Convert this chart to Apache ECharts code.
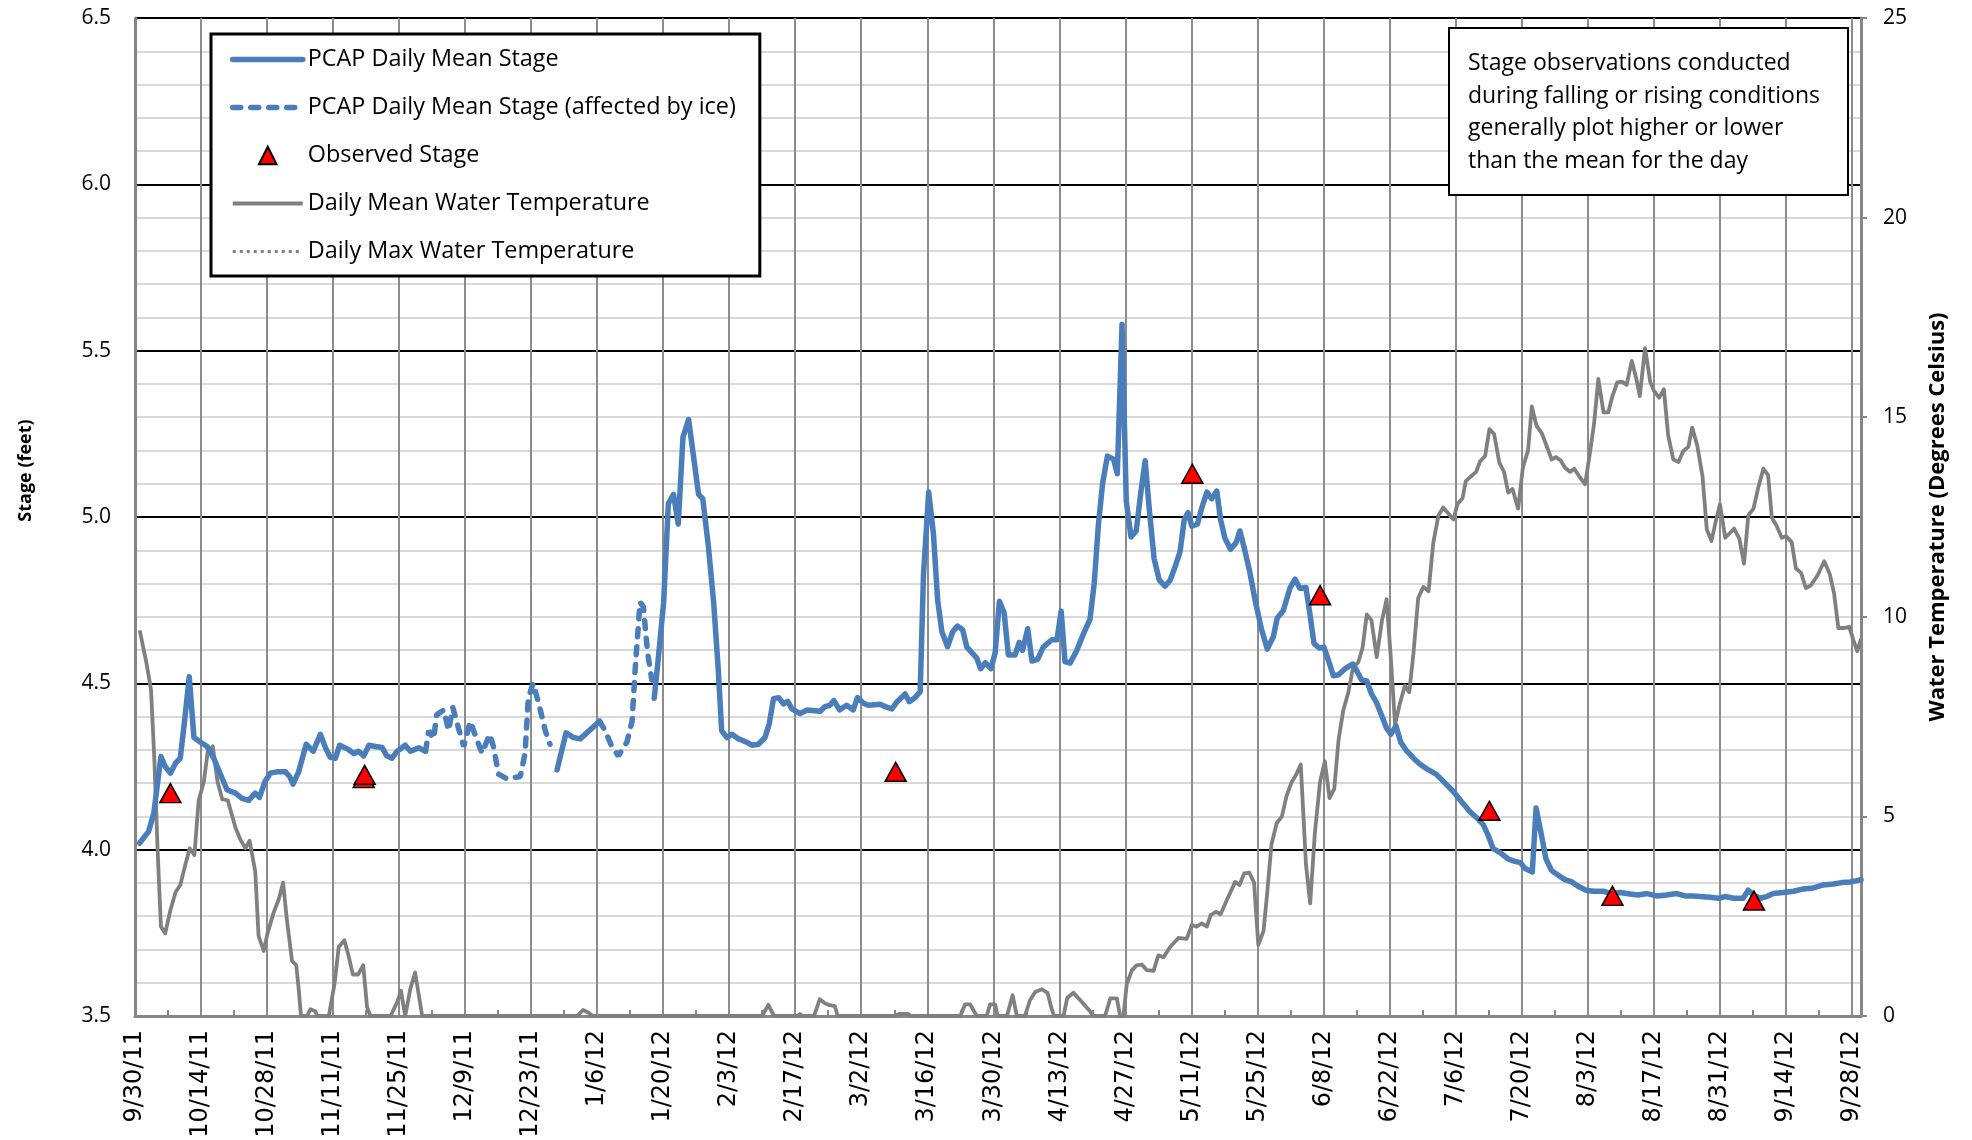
<!DOCTYPE html>
<html lang="en">

<head>
  <meta charset="utf-8">
  <title>PCAP stage and water temperature</title>
  <script src="https://cdn.jsdelivr.net/npm/echarts@6.0.0/dist/echarts.min.js"></script>
  <style>
    body {
      margin: 0;
      background: white;
      overflow: hidden;
    }

    #chart {
      width: 1972px;
      height: 1140px;
    }
  </style>
</head>

<body>
  <div id="chart"></div>

  <script>
    // --- Data. x is days since 9/30/11.

    // Labels for the ticks, one every 14 days.
    const TICK_LABELS = [
      '9/30/11', '10/14/11', '10/28/11', '11/11/11', '11/25/11', '12/9/11', '12/23/11',
      '1/6/12', '1/20/12', '2/3/12', '2/17/12', '3/2/12', '3/16/12', '3/30/12',
      '4/13/12', '4/27/12', '5/11/12', '5/25/12', '6/8/12', '6/22/12', '7/6/12',
      '7/20/12', '8/3/12', '8/17/12', '8/31/12', '9/14/12', '9/28/12'
    ];

    // Open water stage (feet), split where the record is affected by ice.
    const stageOpenA = [
      [1, 4.02], [2.9, 4.055], [4, 4.11], [4.7, 4.19], [5.5, 4.28], [6.4, 4.25], [7.5, 4.23],
      [8.6, 4.26], [9.6, 4.275], [10.5, 4.385], [11.5, 4.52], [12.5, 4.337], [13.9, 4.323],
      [15.3, 4.31], [16.7, 4.275], [18.1, 4.227], [19.5, 4.18], [21.3, 4.17], [22.7, 4.154],
      [24.1, 4.148], [25.5, 4.17], [26.4, 4.157], [27.6, 4.206], [28.7, 4.23], [30.1, 4.234],
      [31.9, 4.234], [32.8, 4.22], [33.5, 4.197], [34.7, 4.234], [36.3, 4.317], [37.8, 4.296],
      [39.3, 4.347], [40.4, 4.306], [41.4, 4.278], [42.5, 4.275], [43.4, 4.314], [45, 4.303],
      [46.4, 4.289], [47.4, 4.296], [48.5, 4.282], [49.6, 4.314], [51, 4.31], [52.4, 4.307],
      [53.4, 4.282], [54.5, 4.275], [55.6, 4.296], [57.3, 4.314], [58.4, 4.296], [60.2, 4.306],
      [61.6, 4.296]
    ];
    const stageOpenB = [
      [89.5, 4.24], [91.4, 4.351], [93, 4.337], [94.4, 4.333], [95.8, 4.351], [98.5, 4.386]
    ];
    const stageOpenC = [
      [110.1, 4.455], [111, 4.58], [112.1, 4.744], [113.1, 5.04], [114.2, 5.068], [115.2, 4.979],
      [116.2, 5.24], [117.4, 5.293], [118.4, 5.186], [119.5, 5.068], [120.4, 5.055], [121.6, 4.91],
      [122.7, 4.744], [123.7, 4.537], [124.4, 4.358], [125.5, 4.337], [126.6, 4.347], [128, 4.333],
      [129.7, 4.323], [130.8, 4.314], [132.2, 4.317], [133.6, 4.337], [134.5, 4.379], [135.4, 4.454],
      [136.5, 4.457], [137.5, 4.438], [138.4, 4.446], [139.3, 4.423], [141, 4.409], [142.5, 4.42],
      [145.3, 4.416], [146.3, 4.43], [147.3, 4.434], [148.2, 4.448], [149.4, 4.42], [150.9, 4.434],
      [152.3, 4.42], [153.2, 4.457], [154.5, 4.44], [155.5, 4.434], [158, 4.437], [159.1, 4.43],
      [160.5, 4.423], [161.5, 4.443], [163.3, 4.468], [164.2, 4.445], [165.4, 4.457], [166.5, 4.475],
      [167.2, 4.827], [168.3, 5.075], [169.3, 4.951], [170.2, 4.751], [171.1, 4.655], [172.3, 4.61],
      [173.4, 4.655], [174.4, 4.672], [175.5, 4.661], [176.4, 4.609], [177.6, 4.59], [178.5, 4.576],
      [179.3, 4.544], [180.3, 4.562], [181.5, 4.544], [182.4, 4.592], [183.3, 4.747], [184.3, 4.712],
      [185.2, 4.585], [186.6, 4.585], [187.5, 4.623], [188.2, 4.599], [189.3, 4.664], [190.2, 4.567],
      [191.4, 4.572], [192.6, 4.609], [194.4, 4.631], [195.5, 4.631], [196.4, 4.717], [197.2, 4.565],
      [198.3, 4.561], [199.7, 4.599], [201.1, 4.648], [202.5, 4.692], [203.4, 4.8], [204.3, 4.979],
      [205.2, 5.103], [206.2, 5.183], [207.5, 5.174], [208.3, 5.13], [209.3, 5.579], [210.2, 5.048],
      [211.2, 4.94], [212.3, 4.958], [213.3, 5.075], [214.2, 5.169], [215.1, 5.02], [216.1, 4.875],
      [217.2, 4.81], [218.4, 4.792], [219.5, 4.81], [220.5, 4.848], [221.6, 4.896], [222.5, 4.992],
      [223.3, 5.013], [224.1, 4.972], [225.3, 4.979], [226.2, 5.027], [227.3, 5.075], [228.3, 5.055],
      [229.4, 5.078], [230.2, 4.992], [231.1, 4.937], [232.3, 4.903], [233.5, 4.923], [234.3, 4.958],
      [235.4, 4.896], [236.4, 4.834], [237.5, 4.751], [238.9, 4.661], [240.1, 4.603], [241.4, 4.641],
      [242.2, 4.696], [243.5, 4.719], [244.9, 4.786], [246, 4.813], [247, 4.786], [248.3, 4.788],
      [249.2, 4.703], [250, 4.62], [251.1, 4.606], [252.1, 4.609], [253, 4.572], [254.1, 4.523],
      [255.2, 4.526], [256.6, 4.544], [258.2, 4.558], [259.1, 4.537], [260.1, 4.51], [261.2, 4.507],
      [262.2, 4.468], [263.3, 4.441], [264.4, 4.402], [265.4, 4.365], [266.3, 4.347], [267.4, 4.372],
      [268.4, 4.323], [269.7, 4.296], [271.1, 4.275], [272.5, 4.257], [273.9, 4.243], [275.9, 4.227],
      [277.4, 4.206], [279.6, 4.174], [281.3, 4.144], [283.1, 4.114], [284.5, 4.096], [285.9, 4.075],
      [287, 4.041], [288, 4.003], [289.4, 3.992], [291.2, 3.972], [292.6, 3.965], [293.8, 3.961],
      [294.7, 3.944], [296.3, 3.933], [297.1, 4.125], [298.1, 4.054], [299.2, 3.972], [300.4, 3.937],
      [301.8, 3.923], [303.2, 3.91], [304.7, 3.903], [306.1, 3.889], [307.7, 3.878], [309.2, 3.875],
      [311.4, 3.875], [313.1, 3.868], [314.9, 3.871], [317, 3.867], [318.8, 3.864], [320.6, 3.868],
      [322.7, 3.861], [324.8, 3.864], [326.9, 3.868], [328.7, 3.861], [330.4, 3.861], [331.9, 3.859],
      [334, 3.857], [335.8, 3.854], [337.2, 3.859], [339, 3.854], [341, 3.854], [342.1, 3.878],
      [343.2, 3.864], [344.6, 3.854], [346, 3.859], [347.4, 3.868], [349.5, 3.871], [351.7, 3.875],
      [353.8, 3.882], [355.9, 3.885], [358, 3.894], [360.1, 3.897], [361.9, 3.901], [363.7, 3.903],
      [365.1, 3.907], [366, 3.91]
    ];

    // Stage while the gage was affected by ice (dashed).
    const stageIceA = [
      [61.6, 4.296], [62.3, 4.358], [63.3, 4.333], [64, 4.406], [65.5, 4.42], [66.5, 4.358],
      [67.4, 4.427], [68.6, 4.365], [69.7, 4.31], [71.1, 4.386], [72.5, 4.33], [73.6, 4.29],
      [75.2, 4.347], [76, 4.31], [77.1, 4.227], [78.9, 4.213], [81.7, 4.22], [82.7, 4.289],
      [83.4, 4.454], [84.4, 4.5], [85.6, 4.44], [87, 4.358], [88, 4.317]
    ];
    const stageIceB = [
      [98.5, 4.386], [99.7, 4.358], [101.1, 4.31], [102.5, 4.282], [104.3, 4.323], [105.4, 4.386],
      [106.1, 4.551], [107.1, 4.744], [107.8, 4.73], [108.7, 4.592], [109.6, 4.51]
    ];

    // Field observations of stage (feet).
    const observedStage = [
      [7.5, 4.17], [48.5, 4.215], [48.7, 4.225], [161.3, 4.234], [224.2, 5.13],
      [251.3, 4.765], [287.2, 4.117], [313.3, 3.861], [343.3, 3.847]
    ];

    // Daily mean water temperature (degrees Celsius).
    const meanTemp = [
      [1, 9.66], [2.4, 8.86], [3.4, 8.17], [4.1, 6.44], [4.8, 4.14], [5.5, 2.24], [6.4, 2.07],
      [7.5, 2.65], [8.6, 3.1], [9.6, 3.28], [10.7, 3.8], [11.6, 4.2], [12.6, 4.03], [13.5, 5.4],
      [14.6, 5.87], [15.4, 6.61], [16.5, 6.76], [17.5, 5.87], [18.5, 5.43], [19.7, 5.4], [20.2, 5.18],
      [21.3, 4.72], [22.3, 4.43], [23.4, 4.2], [24.3, 4.39], [25.5, 3.62], [26.2, 2.01], [27.3, 1.63],
      [28.1, 2.07], [29.4, 2.59], [30.5, 2.93], [31.4, 3.34], [32.2, 2.42], [33.3, 1.38], [34.2, 1.27],
      [34.7, 0.69], [35.2, 0], [36.5, 0], [37.2, 0.17], [38.2, 0.12], [38.7, 0], [41.1, 0], [42.3, 0.8],
      [43.2, 1.73], [44.4, 1.9], [45.3, 1.5], [46.2, 1.04], [47.3, 1.04], [48.4, 1.27], [49.2, 0.23],
      [49.9, 0], [54.2, 0], [55.6, 0.35], [56.4, 0.63], [57.3, 0], [58.4, 0.69], [59.4, 1.09],
      [60.9, 0], [93.8, 0], [95, 0.15], [96.2, 0.08], [97, 0], [133, 0], [134.3, 0.28], [135.5, 0],
      [140.5, 0], [141, 0.05], [141.5, 0], [144, 0], [145.2, 0.42], [146.3, 0.32], [147.3, 0.27],
      [148.4, 0.25], [149, 0], [161, 0], [162, 0.05], [164, 0.05], [164.5, 0], [175, 0], [176, 0.29],
      [177.1, 0.29], [178.5, 0], [180.6, 0], [181.3, 0.29], [182.4, 0.29], [182.9, 0], [184.9, 0],
      [186.1, 0.52], [187, 0], [188.7, 0], [189.8, 0.4], [190.9, 0.6], [192.3, 0.67], [193.5, 0.58],
      [194.4, 0.17], [194.9, 0], [196.9, 0], [197.7, 0.46], [199, 0.58], [200.8, 0.35], [202.5, 0.12],
      [203.2, 0], [205.7, 0], [206.8, 0.44], [208.2, 0.44], [208.9, 0], [209.6, 0], [210.3, 0.8],
      [211.4, 1.15], [212.4, 1.27], [213.5, 1.29], [214.5, 1.15], [216, 1.13], [217, 1.52],
      [218.1, 1.47], [219.5, 1.73], [221.3, 1.96], [223, 1.93], [224.1, 2.28], [225.1, 2.24],
      [226.2, 2.32], [227.3, 2.24], [228.1, 2.53], [229.2, 2.61], [230.2, 2.55], [231.5, 2.9],
      [233.3, 3.36], [234.2, 3.28], [235.2, 3.57], [236.3, 3.59], [237.3, 3.34], [238.2, 1.78],
      [239.3, 2.13], [240.1, 3.1], [241, 4.31], [242.1, 4.83], [243.2, 5], [244.2, 5.52],
      [245.3, 5.87], [246.2, 6.04], [247.2, 6.3], [248.3, 3.8], [249.2, 2.82], [250.2, 4.6],
      [251.3, 5.87], [252.3, 6.38], [253.3, 5.46], [254.3, 5.69], [255.2, 6.9], [256.2, 7.65],
      [257.3, 8.11], [258.3, 8.74], [259.4, 8.86], [260.3, 9.22], [261.2, 10.06], [262.2, 9.91],
      [263.3, 8.99], [264.4, 9.89], [265.4, 10.44], [266.3, 8.97], [267.2, 7.3], [268.2, 7.82],
      [269.3, 8.28], [270.2, 8.11], [271.1, 9.09], [272.1, 10.47], [273.2, 10.75], [274.3, 10.64],
      [275.3, 11.85], [276.4, 12.54], [277.4, 12.74], [278.5, 12.59], [279.6, 12.44], [280.4, 12.82],
      [281.5, 12.97], [282.2, 13.4], [283.2, 13.51], [284.4, 13.63], [285.2, 13.89], [286.3, 14.03],
      [287.2, 14.7], [288.2, 14.58], [289.3, 13.86], [290.3, 13.63], [291.2, 13.11], [292.1, 13.2],
      [293.3, 12.71], [294.3, 13.74], [295.4, 14.17], [296.2, 15.27], [297.2, 14.78], [298.3, 14.6],
      [299.4, 14.26], [300.4, 13.94], [301.3, 14], [302.3, 13.92], [303.2, 13.74], [304.3, 13.63],
      [305.2, 13.71], [306.3, 13.51], [307.5, 13.32], [308.5, 14.09], [309.4, 14.84], [310.3, 15.96],
      [311.4, 15.12], [312.4, 15.12], [313.3, 15.53], [314.3, 15.87], [315.3, 15.89], [316.3, 15.81],
      [317.4, 16.41], [318.3, 15.99], [319.1, 15.53], [320.2, 16.73], [321.3, 15.89], [322.1, 15.66],
      [323.2, 15.49], [324.2, 15.7], [325.1, 14.55], [326.2, 13.94], [327.3, 13.88], [328.3, 14.15],
      [329.4, 14.26], [330.2, 14.74], [331.3, 14.28], [332.4, 13.51], [333.3, 12.19], [334.3, 11.9],
      [335.3, 12.44], [336.1, 12.82], [337.2, 11.98], [338.2, 12.1], [339.1, 12.21], [340.2, 11.96],
      [341.2, 11.33], [342.1, 12.54], [343.2, 12.71], [344.2, 13.23], [345.3, 13.71], [346.3, 13.55],
      [347.1, 12.48], [348.1, 12.28], [349.2, 11.98], [350.1, 12.02], [351.3, 11.87], [352.2, 11.21],
      [353.3, 11.1], [354.3, 10.72], [355.4, 10.79], [356.8, 11.04], [358.2, 11.39], [359.4, 11.06],
      [360.3, 10.58], [361.2, 9.72], [362.4, 9.72], [363.5, 9.75], [364.4, 9.41], [365.2, 9.14],
      [366, 9.45]
    ];

    // The daily max temperature only shows up in the legend.
    const maxTemp = [];

    const NOTE_LINES = [
      'Stage observations conducted',
      'during falling or rising conditions',
      'generally plot higher or lower',
      'than the mean for the day'
    ];

    // --- Styling.

    const BLUE = '#4a7ebb';
    const GRAY = '#808080';
    const AXIS_GRAY = '#868686';
    const FONT = '"Open Sans", sans-serif';

    // Joins segments into one series, leaving a gap between each of them.
    function withGaps(segments) {
      const out = [];
      segments.forEach((seg, i) => {
        if (i > 0) out.push([seg[0][0], null]);
        seg.forEach(p => out.push(p));
      });
      return out;
    }

    // Legend entry for a plain line: hide the little circle echarts draws on it.
    function lineOnly(name) {
      return { name: name, itemStyle: { opacity: 0 } };
    }

    function makeOptions() {
      return {
        animation: false,
        backgroundColor: '#fff',
        grid: {
          left: 135,
          right: 111,
          top: 18,
          bottom: 124,
          outerBoundsMode: 'none'
        },

        legend: {
          orient: 'vertical',
          left: 211,
          top: 34,
          padding: [14, 24, 13, 19],
          itemWidth: 70,
          itemHeight: 22,
          itemGap: 25,
          backgroundColor: '#fff',
          borderColor: '#000',
          borderWidth: 3,
          selectedMode: false,
          lineStyle: { width: 'inherit' },
          textStyle: { fontFamily: FONT, fontSize: 23.4, color: '#000' },
          data: [
            lineOnly('PCAP Daily Mean Stage'),
            lineOnly('PCAP Daily Mean Stage (affected by ice)'),
            'Observed Stage',
            lineOnly('Daily Mean Water Temperature'),
            lineOnly('Daily Max Water Temperature')
          ]
        },

        xAxis: {
          type: 'value',
          min: 0,
          max: 366,
          interval: 14,
          axisLine: { lineStyle: { color: AXIS_GRAY, width: 3 } },
          axisTick: { show: false, inside: true },
          minorTick: { show: true, splitNumber: 2, length: 6, lineStyle: { color: AXIS_GRAY, width: 2 } },
          splitLine: { show: true, lineStyle: { color: '#8c8c8c', width: 2 } },
          axisLabel: {
            rotate: 90,
            margin: 14,
            color: '#000',
            fontFamily: '"DejaVu Sans", sans-serif',
            fontSize: 24,
            showMaxLabel: false,
            formatter: v => (v % 14 === 0 ? TICK_LABELS[v / 14] : '')
          }
        },

        yAxis: [
          {
            type: 'value',
            name: 'Stage (feet)',
            nameLocation: 'middle',
            nameGap: 100,
            // The title sits a bit above the middle of the axis.
            nameTextStyle: {
              fontFamily: FONT, fontWeight: 'bold', fontSize: 18, color: '#000',
              padding: [0, 0, 0, 93]
            },
            min: 3.5,
            max: 6.5,
            interval: 0.5,
            axisLine: { show: true, lineStyle: { color: AXIS_GRAY, width: 3 } },
            axisTick: { show: false },
            minorTick: { show: false, splitNumber: 5 },
            minorSplitLine: { show: true, lineStyle: { color: '#d9d9d9', width: 2 } },
            splitLine: { show: true, lineStyle: { color: '#000', width: 2 } },
            axisLabel: {
              margin: 24,
              color: '#000',
              fontFamily: FONT,
              fontSize: 21,
              formatter: v => v.toFixed(1)
            }
          },
          {
            type: 'value',
            name: 'Water Temperature (Degrees Celsius)',
            nameLocation: 'middle',
            nameGap: 66,
            nameTextStyle: { fontFamily: FONT, fontWeight: 'bold', fontSize: 22, color: '#000' },
            min: 0,
            max: 25,
            interval: 5,
            position: 'right',
            axisLine: { show: true, lineStyle: { color: AXIS_GRAY, width: 3 } },
            axisTick: { show: true, length: 6, lineStyle: { color: AXIS_GRAY, width: 2 } },
            splitLine: { show: false },
            axisLabel: { margin: 22, color: '#000', fontFamily: FONT, fontSize: 21 }
          }
        ],

        series: [
          {
            name: 'PCAP Daily Mean Stage',
            type: 'line',
            z: 3,
            symbol: 'none',
            connectNulls: false,
            data: withGaps([stageOpenA, stageOpenB, stageOpenC]),
            lineStyle: { color: BLUE, width: 5.5, join: 'round', cap: 'round' },
            itemStyle: { color: BLUE }
          },
          {
            name: 'PCAP Daily Mean Stage (affected by ice)',
            type: 'line',
            z: 3,
            symbol: 'none',
            connectNulls: false,
            data: withGaps([stageIceA, stageIceB]),
            lineStyle: { color: BLUE, width: 5.5, type: [8, 10], cap: 'round' },
            itemStyle: { color: BLUE }
          },
          {
            // A line series with the line hidden so the legend shows a plain triangle.
            name: 'Observed Stage',
            type: 'line',
            z: 5,
            symbol: 'triangle',
            symbolSize: [21, 19],
            showSymbol: true,
            data: observedStage,
            lineStyle: { width: 0, opacity: 0 },
            itemStyle: { color: '#ff0000', borderColor: '#000', borderWidth: 1.5 }
          },
          {
            name: 'Daily Mean Water Temperature',
            type: 'line',
            yAxisIndex: 1,
            z: 2,
            symbol: 'none',
            data: meanTemp,
            lineStyle: { color: GRAY, width: 3.8, join: 'round' },
            itemStyle: { color: GRAY }
          },
          {
            name: 'Daily Max Water Temperature',
            type: 'line',
            yAxisIndex: 1,
            z: 2,
            symbol: 'none',
            data: maxTemp,
            lineStyle: { color: GRAY, width: 3, type: [3, 4] },
            itemStyle: { color: GRAY }
          }
        ],

        // The note box in the top right corner.
        graphic: [
          {
            type: 'rect',
            z: 100,
            shape: { x: 1449, y: 28, width: 399, height: 167 },
            style: { fill: '#fff', stroke: '#000', lineWidth: 2 }
          },
          {
            type: 'text',
            z: 101,
            x: 1468,
            y: 47,
            style: {
              text: NOTE_LINES.join('\n'),
              font: '23px ' + FONT,
              lineHeight: 32.7,
              fill: '#000'
            }
          }
        ]
      };
    }

    const chart = echarts.init(document.getElementById('chart'));
    chart.setOption(makeOptions());
  </script>
</body>

</html>
